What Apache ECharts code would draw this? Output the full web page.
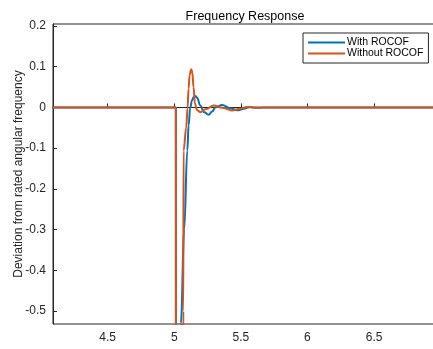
<!DOCTYPE html>
<html lang="en">
  <head>
    <meta charset="UTF-8" />
    <title>Frequency Response</title>
    <style>
      html, body { margin: 0; padding: 0; background: #fff; }
      #main { width: 433px; height: 349px; }
    </style>
  </head>
  <body>
    <div id="main"></div>
  </body>
  <script src="https://cdn.jsdelivr.net/npm/echarts@6/dist/echarts.min.js"></script>
  <script>
    // data (time in s, deviation in pu)
    var withTime = [4.0, 5.012, 5.014, 5.045, 5.05, 5.075, 5.098, 5.108, 5.12, 5.133, 5.145, 5.158, 5.172, 5.195, 5.225, 5.258, 5.285, 5.308, 5.36, 5.42, 5.474, 5.52, 5.571, 5.62, 5.67, 7.0];
    var withDev = [0, 0, -1.5, -1.5, -0.53, -0.3, -0.106, -0.044, 0, 0.017, 0.025, 0.028, 0.024, 0.005, -0.012, -0.018, -0.01, 0, 0.006, -0.002, -0.007, -0.003, 0.001, -0.001, 0, 0];

    var withoutTime = [4.0, 5.012, 5.014, 5.066, 5.068, 5.07, 5.09, 5.1, 5.108, 5.115, 5.128, 5.136, 5.145, 5.155, 5.17, 5.195, 5.24, 5.296, 5.36, 5.434, 5.49, 5.547, 5.6, 7.0];
    var withoutDev = [0, 0, -1.5, -1.5, -0.5, -0.106, -0.05, 0, 0.046, 0.08, 0.094, 0.085, 0.05, 0.01, -0.006, -0.0116, -0.004, 0.005, -0.001, -0.0074, -0.003, 0.001, 0, 0];

    var xTicks = [4.5, 5, 5.5, 6, 6.5];
    var yTicks = [-0.5, -0.4, -0.3, -0.2, -0.1, 0, 0.1, 0.2];

    function pairs(xs, ys) {
      return xs.map(function (x, i) { return [x, ys[i]]; });
    }

    var axisColor = '#262626';
    var font = 'Liberation Sans, Arial, sans-serif';

    var myChart = echarts.init(document.getElementById('main'));

    var option = {
      animation: false,
      textStyle: { fontFamily: font },
      title: {
        text: 'Frequency Response',
        left: 240,
        textAlign: 'center',
        top: 5,
        textStyle: { fontSize: 12.5, fontWeight: 'normal', color: '#000', fontFamily: font }
      },
      legend: {
        orient: 'vertical',
        left: 303,
        top: 33,
        padding: [4, 5, 4, 5],
        itemGap: 0,
        itemWidth: 37,
        itemHeight: 2,
        icon: 'rect',
        backgroundColor: '#fff',
        borderColor: axisColor,
        borderWidth: 1,
        borderRadius: 0,
        textStyle: { fontSize: 10.5, lineHeight: 11, color: '#000', padding: [0, 0, 0, -3], fontFamily: font },
        data: ['With ROCOF', 'Without ROCOF']
      },
      grid: {
        left: 53,
        top: 24,
        right: -1,
        bottom: 25,
        outerBoundsMode: 'none',
        containLabel: false,
        show: true,
        borderColor: axisColor,
        borderWidth: 1
      },
      xAxis: {
        type: 'value',
        min: 4.09,
        max: 6.95,
        splitLine: { show: false },
        axisLine: { lineStyle: { color: axisColor } },
        axisTick: { inside: true, length: 4, customValues: xTicks, lineStyle: { color: axisColor } },
        axisLabel: { customValues: xTicks, color: axisColor, fontSize: 12, margin: 8 }
      },
      yAxis: {
        type: 'value',
        min: -0.532,
        max: 0.205,
        name: 'Deviation from rated angular frequency',
        nameLocation: 'middle',
        nameGap: 28,
        nameMoveOverlap: false,
        nameTextStyle: { fontSize: 12, color: axisColor },
        splitLine: { show: false },
        axisLine: { show: true, lineStyle: { color: axisColor } },
        axisTick: { show: true, inside: true, length: 4, customValues: yTicks, lineStyle: { color: axisColor } },
        axisLabel: { customValues: yTicks, color: axisColor, fontSize: 12, margin: 7 }
      },
      series: [
        {
          name: 'With ROCOF',
          type: 'line',
          symbol: 'none',
          smooth: 0.4,
          smoothMonotone: 'x',
          clip: true,
          color: '#0072BD',
          lineStyle: { width: 2 },
          data: pairs(withTime, withDev)
        },
        {
          name: 'Without ROCOF',
          type: 'line',
          symbol: 'none',
          smooth: 0.4,
          smoothMonotone: 'x',
          clip: true,
          color: '#D95319',
          lineStyle: { width: 2 },
          data: pairs(withoutTime, withoutDev)
        }
      ]
    };

    myChart.setOption(option);
  </script>
</html>
